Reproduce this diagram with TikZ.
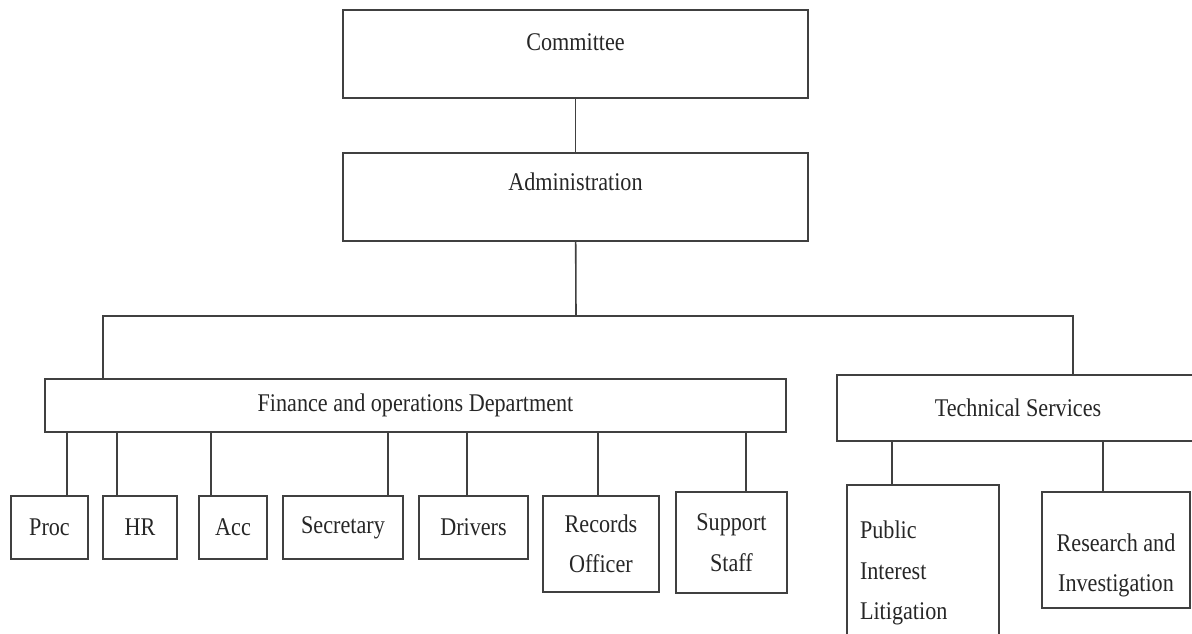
\documentclass[tikz,border=0pt]{standalone}
\usepackage{fontspec}
\setmainfont{Liberation Serif}[FakeStretch=0.87]
\usepackage{tikz}

\begin{document}
\begin{tikzpicture}[x=0.02cm,y=-0.02cm]
\tikzset{every node/.style={font=\fontsize{14.5}{23}\selectfont, text=black!85},
  unit/.style={draw=black!75, line width=0.9pt, inner sep=0pt, align=center},
  link/.style={draw=black!75, line width=0.9pt}}
\clip (0,0) rectangle (1192,634);
% top of the chart
\node (committee) [unit, minimum width=9.3cm, minimum height=1.76cm,
  label={[anchor=center,yshift=-0.66cm]north:Committee}] at (575.5,54) {};
\node (admin) [unit, minimum width=9.3cm, minimum height=1.76cm,
  label={[anchor=center,yshift=-0.6cm]north:Administration}] at (575.5,197) {};
\draw [link] (committee) -- (admin);
% departments
\node (finance) [unit, minimum width=14.82cm, minimum height=1.06cm] at (415.5,405.5) {Finance and operations Department};
\node (tech) [unit, minimum width=7.24cm, minimum height=1.32cm] at (1018,408) {Technical Services};
\coordinate (bus) at (576,316);
\coordinate (finL) at (103,316);
\coordinate (techR) at (1073,316);
\draw [link] (admin) -- (bus);
\draw [link] (finance.north -| finL) -- (finL) -- (techR) -- (tech.north -| techR);
% finance units
\node (proc) [unit, minimum width=1.54cm, minimum height=1.26cm] at (49.5,527.5) {Proc};
\node (hr) [unit, minimum width=1.48cm, minimum height=1.26cm] at (140,527.5) {HR};
\node (acc) [unit, minimum width=1.36cm, minimum height=1.26cm] at (233,527.5) {Acc};
\node (secretary) [unit, minimum width=2.4cm, minimum height=1.26cm] at (343,527.5) {Secretary};
\node (drivers) [unit, minimum width=2.18cm, minimum height=1.26cm] at (473.5,527.5) {Drivers};
\node (records) [unit, minimum width=2.32cm, minimum height=1.92cm] at (601,544) {Records\\Officer};
\node (support) [unit, minimum width=2.22cm, minimum height=2.02cm] at (731.5,542.5) {Support\\Staff};
\foreach \n/\x in {proc/67, hr/117, acc/211, secretary/388, drivers/467, records/598, support/746}
  \draw [link] (finance.south -| \x,0) -- (\n.north -| \x,0);
% technical units
\node (pil) [unit, align=left, text width=2.52cm, inner xsep=0.26cm, minimum height=3.52cm] at (923,573) {Public\\Interest\\Litigation};
\node (research) [unit, minimum width=2.96cm, minimum height=2.32cm, text height=1.79cm] at (1116,550) {Research and\\Investigation};
\foreach \n/\x in {pil/892, research/1103}
  \draw [link] (tech.south -| \x,0) -- (\n.north -| \x,0);
\end{tikzpicture}
\end{document}
